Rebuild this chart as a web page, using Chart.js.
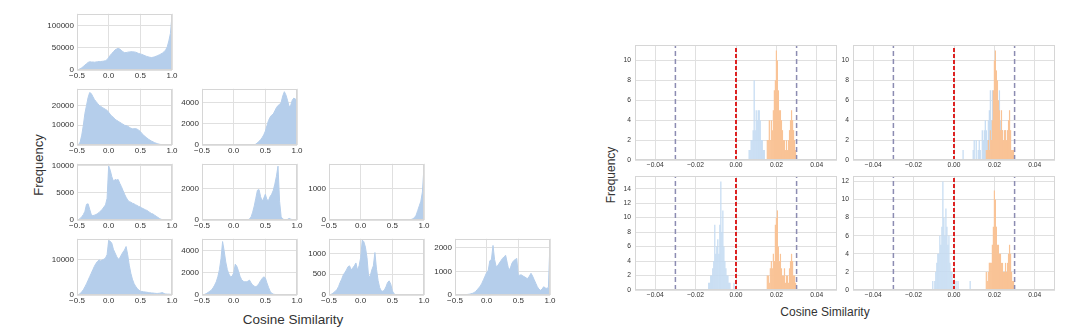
<!DOCTYPE html>
<html><head><meta charset="utf-8">
<script src="https://cdn.jsdelivr.net/npm/chart.js@4.4.1/dist/chart.umd.min.js"></script>
<style>
html,body{margin:0;padding:0;background:#fff;}
#wrap{position:relative;width:1080px;height:333px;overflow:hidden;font-family:"Liberation Sans",Arial,sans-serif;color:#333;}
.t{position:absolute;white-space:nowrap;transform:translate(-50%,-50%);}
.r{transform:translate(-50%,-50%) rotate(-90deg);}
canvas{position:absolute;}
</style></head><body><div id="wrap">
<div class="t r" style="left:38px;top:165px;font-size:13px">Frequency</div>
<div class="t" style="left:293px;top:319px;font-size:13.5px">Cosine Similarity</div>
<div class="t r" style="left:611px;top:175px;font-size:12px">Frequency</div>
<div class="t" style="left:825px;top:312px;font-size:12px">Cosine Similarity</div>
</div>
<script>
// ---------- DATA ----------
// left grid: histogram bins (cosine similarity)
const binX = [-0.5,-0.475,-0.45,-0.425,-0.4,-0.375,-0.35,-0.325,-0.3,-0.275,-0.25,-0.225,-0.2,-0.175,-0.15,-0.125,-0.1,-0.075,-0.05,-0.025,0,0.025,0.05,0.075,0.1,0.125,0.15,0.175,0.2,0.225,0.25,0.275,0.3,0.325,0.35,0.375,0.4,0.425,0.45,0.475,0.5,0.525,0.55,0.575,0.6,0.625,0.65,0.675,0.7,0.725,0.75,0.775,0.8,0.825,0.85,0.875,0.9,0.925,0.95,0.975,1.0];
const freqA = [0,1000,3000,5000,8000,11000,14000,17000,18500,18000,18000,17500,18000,18500,19000,19000,19500,20000,21000,23000,28000,33000,37000,41000,45000,47000,48500,47000,44000,41000,39000,39000,40000,40500,41000,41000,40500,40000,38500,37000,36000,35000,33500,32000,30500,29500,28500,28000,28500,29500,31000,32500,34000,36000,38000,41000,45000,52000,65000,82000,122000];
const freqB = [0,200,1500,5000,10000,16000,20000,24000,26500,26000,24500,23000,22000,21000,20000,19500,19000,18500,18000,17500,16500,15500,14500,14000,13000,12500,12000,11500,11000,10500,10000,9800,9500,9000,8500,8200,8200,8300,8000,7500,6800,5800,5000,4300,3700,3000,2500,2000,1600,1200,900,600,400,250,150,50,0,0,0,0,0];
const freqC = [0,0,0,0,0,0,0,0,0,0,0,0,0,0,0,0,0,0,0,0,0,0,0,0,0,0,0,0,0,0,0,0,0,30,80,200,350,500,700,950,1300,1800,2300,2600,2800,2900,3200,3500,3700,3800,4000,4600,5000,4700,4200,3600,3700,4200,4400,4300,4400];
const freqD = [0,50,300,600,1000,1600,2900,3000,2000,1000,800,900,1000,1200,1400,1700,2000,2400,2800,4000,10000,9200,8000,7200,7500,7400,7500,6800,6200,5500,4800,4200,3700,3400,3300,3100,3000,2800,2700,2500,2400,2200,2100,1900,1800,1600,1400,1200,1100,900,700,500,300,150,50,0,0,0,0,0,0];
const freqE = [0,0,0,0,0,0,0,0,0,0,0,0,0,0,0,0,0,0,0,0,0,0,0,0,0,0,0,0,0,20,60,200,500,900,1400,1900,1950,1500,1200,1400,1650,1300,1250,1500,1650,1900,2300,2800,3450,1200,200,60,30,20,40,100,60,20,10,10,10];
const freqF = [0,0,0,0,0,0,0,0,0,0,0,0,0,0,0,0,0,0,0,0,0,0,0,0,0,0,0,0,0,0,0,0,0,0,0,0,0,0,0,0,0,0,0,0,0,0,0,0,0,0,0,10,20,40,80,150,300,450,600,900,1720];
const freqG = [0,100,400,900,1500,2300,3200,4200,5200,6200,7200,8200,9000,9600,10000,9700,10000,10200,10500,11500,15500,15300,14700,13000,12000,11000,10200,10500,11400,12200,12800,13800,11500,8500,6200,4500,3300,2500,1900,1400,1100,1000,900,850,800,700,650,600,550,500,450,450,500,600,700,400,300,250,250,200,200];
const freqH = [0,20,80,150,250,350,450,650,900,1200,1650,2300,3300,4850,4000,3000,2300,1900,1650,1700,2000,2800,2600,2200,1700,1400,1250,1200,1200,1250,1350,1100,900,800,750,850,1050,1300,1500,1650,1550,1100,700,350,150,80,50,30,20,10,0,0,0,0,0,0,0,0,0,0,0];
const freqI = [0,10,30,60,90,130,200,300,380,480,540,600,680,700,600,650,700,770,600,700,900,1320,1280,1150,900,450,450,600,700,1020,620,350,180,100,90,120,200,300,340,260,100,30,10,0,0,0,0,0,0,0,0,0,0,0,0,0,0,0,0,0,0];
const freqJ = [0,0,0,0,5,10,15,20,25,35,50,70,100,150,220,300,380,500,650,800,950,1050,1450,1500,2100,1500,1200,1250,1350,1450,1550,1620,1680,1350,1050,1150,1350,1450,1500,1550,800,850,850,800,770,720,700,800,920,800,650,500,350,250,200,250,350,300,280,320,2300];
const leftXTicks = [-0.5, 0, 0.5, 1.0];
const yTicksA = [0, 50000, 100000];
const yTicksB = [0, 10000, 20000];
const yTicksC = [0, 2000, 4000];
const yTicksD = [0, 5000, 10000];
const yTicksE = [0, 2000];
const yTicksF = [0, 1000];
const yTicksG = [0, 10000];
const yTicksH = [0, 2000, 4000];
const yTicksI = [0, 500, 1000];
const yTicksJ = [0, 1000, 2000];

// right grid: [cosine similarity, count]
const tlBlue = [[0.0065,1],[0.007,1],[0.0075,2],[0.008,2],[0.0085,3],[0.009,8],[0.0095,3],[0.01,5],[0.0105,4],[0.011,5],[0.0115,5],[0.012,4],[0.0125,2],[0.013,2],[0.0135,1],[0.014,1]];
const tlOrange = [[0.0155,2],[0.016,2],[0.0165,4],[0.017,2],[0.0175,4],[0.018,3],[0.0185,5],[0.019,7],[0.0195,8],[0.02,11],[0.0205,10],[0.021,7],[0.0215,5],[0.022,5],[0.0225,4],[0.023,3],[0.0235,2],[0.024,2],[0.0245,1],[0.025,2],[0.0255,1],[0.026,2],[0.0265,3],[0.027,4],[0.0275,5],[0.028,4],[0.0285,3],[0.029,2],[0.0295,1]];
const trBlue = [[0.0045,1],[0.0095,1],[0.01,2],[0.011,2],[0.012,1],[0.0125,2],[0.013,1],[0.014,3],[0.0145,2],[0.015,3],[0.0155,4],[0.016,3],[0.0165,2],[0.017,4],[0.0175,5],[0.018,7],[0.0185,4],[0.019,7],[0.0195,5],[0.02,4],[0.0205,3],[0.021,4],[0.0215,3],[0.022,5],[0.0225,7],[0.023,4],[0.0235,2],[0.024,3],[0.0245,2],[0.025,1],[0.0255,3],[0.026,2],[0.0265,1]];
const trOrange = [[0.016,1],[0.0165,1],[0.017,2],[0.0175,1],[0.018,3],[0.0185,2],[0.019,4],[0.0195,7],[0.02,10],[0.0205,11],[0.021,9],[0.0215,8],[0.022,6],[0.0225,5],[0.023,3],[0.0235,5],[0.024,3],[0.0245,2],[0.025,3],[0.0255,3],[0.026,2],[0.0265,3],[0.027,4],[0.0275,5],[0.028,3],[0.0285,1],[0.029,1],[0.0295,1]];
const blBlue = [[-0.0135,1],[-0.013,1],[-0.0125,2],[-0.012,2],[-0.0115,3],[-0.011,4],[-0.0105,9],[-0.01,5],[-0.0095,6],[-0.009,7],[-0.0085,5],[-0.008,9],[-0.0075,15],[-0.007,8],[-0.0065,11],[-0.006,6],[-0.0055,4],[-0.005,3],[-0.0045,2],[-0.004,2],[-0.0035,1],[-0.003,1],[-0.001,1]];
const blOrange = [[0.0155,2],[0.016,2],[0.0165,1],[0.017,3],[0.0175,4],[0.018,3],[0.0185,5],[0.019,4],[0.0195,9],[0.02,10],[0.0205,11],[0.021,6],[0.0215,4],[0.022,5],[0.0225,3],[0.023,2],[0.0235,2],[0.024,3],[0.0245,1],[0.025,2],[0.0255,2],[0.026,1],[0.0265,3],[0.027,4],[0.0275,5],[0.028,4],[0.0285,2],[0.029,2],[0.0295,1]];
const brBlue = [[-0.0105,1],[-0.0095,1],[-0.009,2],[-0.0085,3],[-0.008,4],[-0.0075,4],[-0.007,6],[-0.0065,5],[-0.006,7],[-0.0055,12],[-0.005,8],[-0.0045,6],[-0.004,9],[-0.0035,7],[-0.003,5],[-0.0025,6],[-0.002,3],[-0.0015,2],[-0.001,2],[-0.0005,1],[0.001,1],[0.002,1],[0.008,1]];
const brOrange = [[0.016,2],[0.0165,1],[0.017,2],[0.0175,3],[0.018,3],[0.0185,3],[0.019,5],[0.0195,7],[0.02,11],[0.0205,10],[0.021,7],[0.0215,5],[0.022,5],[0.0225,4],[0.023,4],[0.0235,3],[0.024,3],[0.0245,2],[0.025,2],[0.0255,3],[0.026,2],[0.0265,3],[0.027,4],[0.0275,5],[0.028,4],[0.0285,2],[0.029,1],[0.0295,1]];
const rightXTicks = [-0.04, -0.02, 0, 0.02, 0.04];
const yTicksTop = [0, 2, 4, 6, 8, 10];
const yTicksBL = [0, 2, 4, 6, 8, 10, 12, 14];
const yTicksBR = [0, 2, 4, 6, 8, 10, 12];
const boundLines = [-0.03, 0.03];
const zeroLines = [0];

// ---------- STYLE / LAYOUT ----------
Chart.defaults.font.family = '"Liberation Sans", Arial, sans-serif';
Chart.defaults.color = '#333';
const GRID = '#e0e0e0', FRAME = '#d6d6d6';
const HIST = 'rgb(181,206,235)';
const BLUE = 'rgb(196,219,242)', ORANGE = 'rgb(249,195,150)';
const GRAYDASH = '#8c8cb2', RED = '#dd2222';
const wrap = document.getElementById('wrap');

const framePlugin = {id:'frame', afterDraw(chart){
  const a = chart.chartArea, c = chart.ctx;
  c.save(); c.strokeStyle = FRAME; c.lineWidth = 1;
  c.strokeRect(Math.round(a.left)+0.5, Math.round(a.top)+0.5, Math.round(a.width)-1, Math.round(a.height)-1);
  c.restore();
}};

function place(box, yW, xH, padT, padR){
  const c = document.createElement('canvas');
  const w = yW + box[2] + padR, h = padT + box[3] + xH;
  c.width = w; c.height = h;
  c.style.left = (box[0]-yW)+'px'; c.style.top = (box[1]-padT)+'px';
  c.style.width = w+'px'; c.style.height = h+'px';
  wrap.appendChild(c);
  return c;
}
const fmtX = d => v => (v < 0 ? '\u2212' : '') + Math.abs(v).toFixed(d);
function axes(xMin, xMax, xTicks, xDec, yMax, yTicks, yW, xH, fs, xPad, yPad){
  return {
    x:{type:'linear', min:xMin, max:xMax, offset:false,
      afterFit:s=>{s.height = xH;},
      afterBuildTicks:s=>{s.ticks = xTicks.map(v=>({value:v}));},
      grid:{color:GRID, drawTicks:false, offset:false}, border:{display:false},
      ticks:{autoSkip:false, maxRotation:0, minRotation:0, padding:xPad, font:{size:fs}, color:'#333', callback:fmtX(xDec)}},
    y:{type:'linear', min:0, max:yMax,
      afterFit:s=>{s.width = yW;},
      afterBuildTicks:s=>{s.ticks = yTicks.map(v=>({value:v}));},
      grid:{color:GRID, drawTicks:false}, border:{display:false},
      ticks:{autoSkip:false, padding:yPad, font:{size:fs}, color:'#333', callback:v=>String(v)}}
  };
}
const baseOpts = (scales) => ({
  responsive:false, animation:false, devicePixelRatio:1, events:[],
  layout:{padding:{top:6, right:14, left:0, bottom:0}},
  plugins:{legend:{display:false}, tooltip:{enabled:false}},
  scales
});

// left triangular grid
const leftColX = [77, 202, 329, 455], leftRowY = [12, 87, 162, 237];
const leftPanels = [
  {v:freqA, t:yTicksA, max:126000, r:0, c:0},
  {v:freqB, t:yTicksB, max:28400, r:1, c:0},
  {v:freqC, t:yTicksC, max:5270, r:1, c:1},
  {v:freqD, t:yTicksD, max:10400, r:2, c:0},
  {v:freqE, t:yTicksE, max:3600, r:2, c:1},
  {v:freqF, t:yTicksF, max:1800, r:2, c:2},
  {v:freqG, t:yTicksG, max:16000, r:3, c:0},
  {v:freqH, t:yTicksH, max:5100, r:3, c:1},
  {v:freqI, t:yTicksI, max:1350, r:3, c:2},
  {v:freqJ, t:yTicksJ, max:2380, r:3, c:3}
];
leftPanels.forEach(p => {
  const cv = place([leftColX[p.c], leftRowY[p.r], 95, 58], 40, 12, 6, 14);
  new Chart(cv, {
    type:'line',
    data:{datasets:[{data: binX.map((x,i)=>({x:x, y:p.v[i]})), fill:'origin',
      backgroundColor:HIST, borderColor:HIST, borderWidth:1, pointRadius:0, tension:0}]},
    options: baseOpts(axes(-0.5, 1.0, leftXTicks, 1, p.max, p.t, 40, 12, 8, 1, 3)),
    plugins:[framePlugin]
  });
});

// right 2x2 grid
const rightPanels = [
  {box:[635, 43, 202, 117], blue:tlBlue, orange:tlOrange, max:11.55, t:yTicksTop},
  {box:[853, 43, 202, 117], blue:trBlue, orange:trOrange, max:11.55, t:yTicksTop},
  {box:[635, 174, 202, 116], blue:blBlue, orange:blOrange, max:15.75, t:yTicksBL},
  {box:[853, 174, 202, 116], blue:brBlue, orange:brOrange, max:12.6, t:yTicksBR}
];
rightPanels.forEach(p => {
  const cv = place(p.box, 25, 12, 6, 14);
  const vline = (x, color, w, dash) => ({type:'line', data:[{x:x, y:0}, {x:x, y:p.max}],
    borderColor:color, borderWidth:w, borderDash:dash, pointRadius:0, fill:false, order:0});
  new Chart(cv, {
    type:'bar',
    data:{datasets:[
      {data:p.blue.map(d=>({x:d[0], y:d[1]})), backgroundColor:BLUE, grouped:false, barPercentage:1.2, categoryPercentage:1, order:2},
      {data:p.orange.map(d=>({x:d[0], y:d[1]})), backgroundColor:ORANGE, grouped:false, barPercentage:1.2, categoryPercentage:1, order:1},
      ...boundLines.map(x => vline(x, GRAYDASH, 1.5, [5,3])),
      ...zeroLines.map(x => vline(x, RED, 2, [4,2]))
    ]},
    options: baseOpts(axes(-0.05, 0.05, rightXTicks, 2, p.max, p.t, 25, 12, 6.7, 1.5, 4)),
    plugins:[framePlugin]
  });
});
</script>
</body></html>
